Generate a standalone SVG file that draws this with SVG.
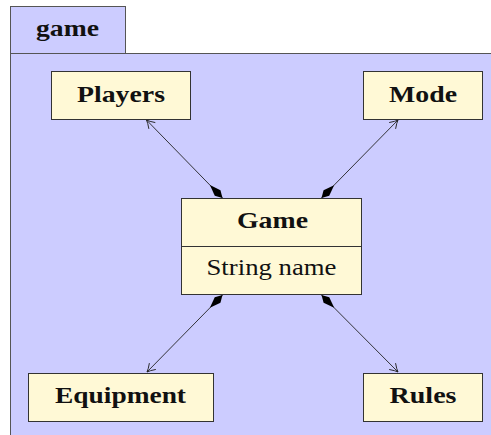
<svg xmlns="http://www.w3.org/2000/svg" width="491" height="435" viewBox="0 0 491 435">
<style>
.frame{fill:#ccccff;stroke:#555;stroke-width:1}
.box{fill:#fff9d6;stroke:#333;stroke-width:1}
.b{font-family:"Liberation Serif","DejaVu Serif","Times New Roman",serif;font-weight:bold;font-size:24px;fill:#111;text-anchor:middle}
.r{font-family:"Liberation Serif","DejaVu Serif","Times New Roman",serif;font-size:24px;fill:#111;text-anchor:middle}
.c{stroke:#222;stroke-width:0.9;fill:none;marker-start:url(#dia);marker-end:url(#arr)}
</style>
<defs>
<marker id="dia" markerUnits="userSpaceOnUse" markerWidth="20" markerHeight="10" refX="0" refY="0" viewBox="-1 -5 20 10" orient="auto" overflow="visible">
<path d="M0,0 L7,-4 L18,0 L7,4 Z" fill="#000"/>
</marker>
<marker id="arr" markerUnits="userSpaceOnUse" markerWidth="12" markerHeight="12" refX="0" refY="0" viewBox="-10 -6 12 12" orient="auto" overflow="visible">
<path d="M-8,-4.5 Q-3,-1 0,0 Q-3,1 -8,4.5" fill="none" stroke="#222" stroke-width="0.9"/>
</marker>
</defs>
<g id="package">
<rect class="frame" x="10.5" y="6.5" width="115" height="47"/>
<rect class="frame" x="10.5" y="53.5" width="490" height="400"/>
<text class="b" x="67.5" y="36" textLength="63" lengthAdjust="spacingAndGlyphs">game</text>
</g>
<g id="connectors">
<path class="c" d="M222.5,198 L146.5,120"/>
<path class="c" d="M321.5,198 L398,120"/>
<path class="c" d="M222.5,295 L147,372"/>
<path class="c" d="M321.5,295 L398,372"/>
</g>
<g id="players">
<rect class="box" x="51.5" y="71.5" width="139" height="48"/>
<text class="b" x="121" y="101.5" textLength="88" lengthAdjust="spacingAndGlyphs">Players</text>
</g>
<g id="mode">
<rect class="box" x="363.5" y="71.5" width="119" height="48"/>
<text class="b" x="423" y="101.5" textLength="68" lengthAdjust="spacingAndGlyphs">Mode</text>
</g>
<g id="game">
<rect class="box" x="181.5" y="198.5" width="180" height="96"/>
<line x1="181.5" y1="246.5" x2="361.5" y2="246.5" stroke="#333" stroke-width="1"/>
<text class="b" x="272.5" y="227.5" textLength="71" lengthAdjust="spacingAndGlyphs">Game</text>
<text class="r" x="271.5" y="275" textLength="130" lengthAdjust="spacingAndGlyphs">String name</text>
</g>
<g id="equipment">
<rect class="box" x="28.5" y="373.5" width="185" height="48"/>
<text class="b" x="120.5" y="403" textLength="131" lengthAdjust="spacingAndGlyphs">Equipment</text>
</g>
<g id="rules">
<rect class="box" x="363.5" y="373.5" width="119" height="48"/>
<text class="b" x="423" y="403" textLength="67" lengthAdjust="spacingAndGlyphs">Rules</text>
</g>
</svg>
